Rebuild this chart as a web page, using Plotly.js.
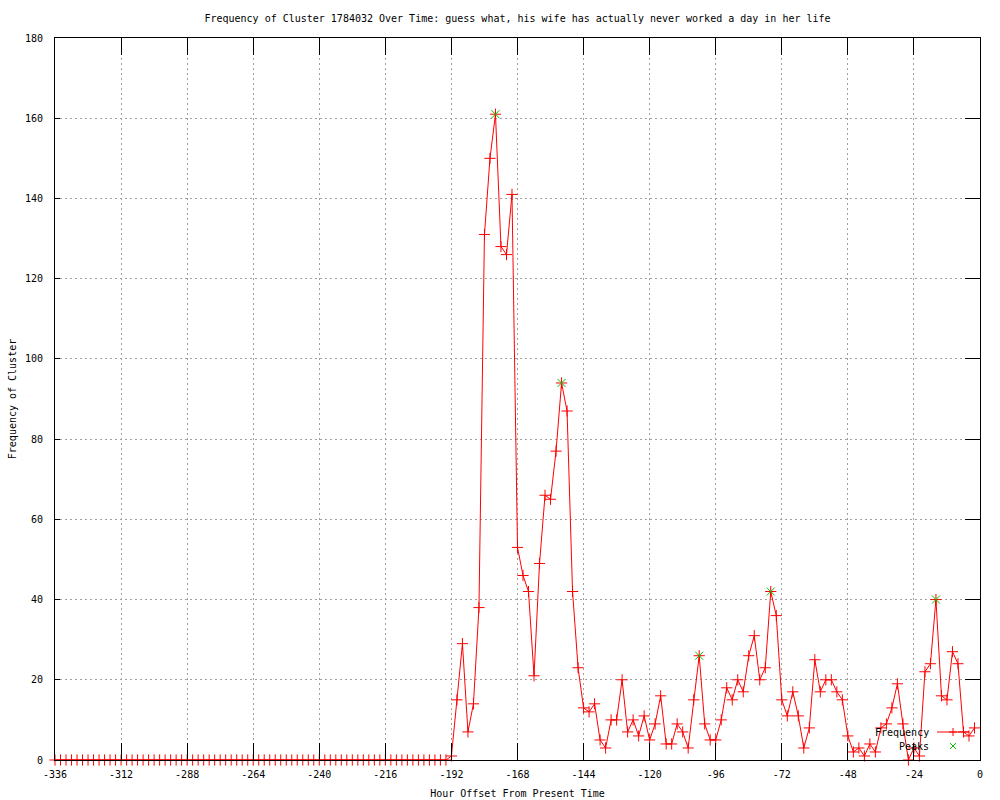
<!DOCTYPE html>
<html>
<head>
<meta charset="utf-8">
<script src="https://cdn.plot.ly/plotly-3.0.1.min.js"></script>
<style>
  html, body { margin: 0; padding: 0; background: #ffffff; }
  #chart { width: 1000px; height: 800px; }
</style>
</head>
<body>
<div id="chart"></div>
<script>
// Hour offsets (every 2 hours)
const hours = [
  -336,-334,-332,-330,-328,-326,-324,-322,-320,-318,-316,-314,
  -312,-310,-308,-306,-304,-302,-300,-298,-296,-294,-292,-290,
  -288,-286,-284,-282,-280,-278,-276,-274,-272,-270,-268,-266,
  -264,-262,-260,-258,-256,-254,-252,-250,-248,-246,-244,-242,
  -240,-238,-236,-234,-232,-230,-228,-226,-224,-222,-220,-218,
  -216,-214,-212,-210,-208,-206,-204,-202,-200,-198,-196,-194,
  -192,-190,-188,-186,-184,-182,-180,-178,-176,-174,-172,-170,
  -168,-166,-164,-162,-160,-158,-156,-154,-152,-150,-148,-146,
  -144,-142,-140,-138,-136,-134,-132,-130,-128,-126,-124,-122,
  -120,-118,-116,-114,-112,-110,-108,-106,-104,-102,-100,-98,
  -96,-94,-92,-90,-88,-86,-84,-82,-80,-78,-76,-74,
  -72,-70,-68,-66,-64,-62,-60,-58,-56,-54,-52,-50,
  -48,-46,-44,-42,-40,-38,-36,-34,-32,-30,-28,-26,
  -24,-22,-20,-18,-16,-14,-12,-10,-8,-6,-4,-2
];
// Frequency of cluster at each hour offset
const frequency = [
  0,0,0,0,0,0,0,0,0,0,0,0,
  0,0,0,0,0,0,0,0,0,0,0,0,
  0,0,0,0,0,0,0,0,0,0,0,0,
  0,0,0,0,0,0,0,0,0,0,0,0,
  0,0,0,0,0,0,0,0,0,0,0,0,
  0,0,0,0,0,0,0,0,0,0,0,0,
  1,15,29,7,14,38,131,150,161,128,126,141,
  53,46,42,21,49,66,65,77,94,87,42,23,
  13,12,14,5,3,10,10,20,7,10,6,11,
  5,9,16,4,4,9,7,3,15,26,9,5,
  5,10,18,15,20,17,26,31,20,23,42,36,
  15,11,17,11,3,8,25,17,20,20,17,15,
  6,2,3,1,4,2,8,9,13,19,9,0,
  3,1,22,24,40,16,15,27,24,7,6,8
];
// Detected peaks
const peakHours = [-176, -152, -102, -76, -16];
const peakFreq = [161, 94, 26, 42, 40];

// Tick labels
const xTickVals = [-336,-312,-288,-264,-240,-216,-192,-168,-144,-120,-96,-72,-48,-24,0];
const xTickText = ["-336","-312","-288","-264","-240","-216","-192","-168","-144","-120","-96","-72","-48","-24","0"];
const yTickVals = [0,20,40,60,80,100,120,140,160,180];
const yTickText = ["0","20","40","60","80","100","120","140","160","180"];

const titleText = "Frequency of Cluster 1784032 Over Time: guess what, his wife has actually never worked a day in her life";
const xTitle = "Hour Offset From Present Time";
const yTitle = "Frequency of Cluster";
const legendNames = ["Frequency", "Peaks"];

const FONT = "DejaVu Sans Mono, Liberation Mono, monospace";
const FS = 10;
const RED = "#ff0000";
const GREEN = "#00c000";

// plot area in pixels
const L = 55, R = 980, T = 38, B = 760;
const px = x => (x - L) / (R - L);
const py = y => (B - y) / (B - T);

const traces = [
  {
    x: hours, y: frequency, type: "scatter", mode: "lines+markers",
    name: legendNames[0], cliponaxis: false,
    line: {color: RED, width: 1},
    marker: {symbol: "cross-thin-open", size: 8, color: RED, line: {color: RED, width: 1}},
    showlegend: false, hoverinfo: "x+y"
  },
  {
    x: peakHours, y: peakFreq, type: "scatter", mode: "markers",
    name: legendNames[1], cliponaxis: false,
    marker: {symbol: "x-thin-open", size: 8, color: GREEN, line: {color: GREEN, width: 1}},
    showlegend: false, hoverinfo: "x+y"
  },
  { x: [], y: [], yaxis: "y2", type: "scatter", mode: "markers", showlegend: false, hoverinfo: "skip" }
];

// manual gnuplot-style key (text left of sample)
const keyY1 = 732, keyY2 = 746, keyX0 = 937, keyX1 = 969, keyMX = 953;
const shapes = [
  {type: "line", xref: "paper", yref: "paper", x0: px(keyX0), x1: px(keyX1), y0: py(keyY1), y1: py(keyY1), line: {color: RED, width: 1}},
  {type: "line", xref: "paper", yref: "paper", x0: px(keyMX - 4), x1: px(keyMX + 4), y0: py(keyY1), y1: py(keyY1), line: {color: RED, width: 1}},
  {type: "line", xref: "paper", yref: "paper", x0: px(keyMX), x1: px(keyMX), y0: py(keyY1 - 4), y1: py(keyY1 + 4), line: {color: RED, width: 1}},
  {type: "line", xref: "paper", yref: "paper", x0: px(keyMX - 3), x1: px(keyMX + 3), y0: py(keyY2 - 3), y1: py(keyY2 + 3), line: {color: GREEN, width: 1}},
  {type: "line", xref: "paper", yref: "paper", x0: px(keyMX - 3), x1: px(keyMX + 3), y0: py(keyY2 + 3), y1: py(keyY2 - 3), line: {color: GREEN, width: 1}}
];
const annotations = [
  {xref: "paper", yref: "paper", x: px(931), y: py(keyY1), xanchor: "right", yanchor: "middle", text: legendNames[0], showarrow: false, font: {family: FONT, size: FS, color: "#000"}},
  {xref: "paper", yref: "paper", x: px(931), y: py(keyY2), xanchor: "right", yanchor: "middle", text: legendNames[1], showarrow: false, font: {family: FONT, size: FS, color: "#000"}}
];

const layout = {
  width: 1000, height: 800,
  margin: {l: L, r: 1000 - R, t: T, b: 800 - B, pad: 0},
  paper_bgcolor: "#ffffff", plot_bgcolor: "#ffffff",
  font: {family: FONT, size: FS, color: "#000"},
  title: {text: titleText, xref: "paper", x: 0.5, xanchor: "center", yref: "container", y: 1 - 18/800, yanchor: "middle", font: {family: FONT, size: FS, color: "#000"}},
  showlegend: false,
  xaxis: {
    range: [-336, 0], tickmode: "array", tickvals: xTickVals, ticktext: xTickText,
    ticks: "inside", ticklen: 17, tickwidth: 1, tickcolor: "#000",
    showline: true, linecolor: "#000", linewidth: 1, mirror: "ticks",
    showgrid: true, gridcolor: "#a0a0a0", griddash: "2px,3px", gridwidth: 1,
    zeroline: false, fixedrange: true,
    tickfont: {family: FONT, size: FS, color: "#000"},
    ticklabelstandoff: 5,
    title: {text: xTitle, font: {family: FONT, size: FS, color: "#000"}, standoff: 10},
    automargin: false
  },
  yaxis: {
    range: [0, 180], tickmode: "array", tickvals: yTickVals, ticktext: yTickText,
    ticks: "inside", ticklen: 5, tickwidth: 1, tickcolor: "#000",
    showline: true, linecolor: "#000", linewidth: 1, mirror: true,
    showgrid: true, gridcolor: "#a0a0a0", griddash: "2px,3px", gridwidth: 1,
    zeroline: false, fixedrange: true,
    tickfont: {family: FONT, size: FS, color: "#000"},
    ticklabelstandoff: 9,
    title: {text: yTitle, font: {family: FONT, size: FS, color: "#000"}, standoff: 6},
    automargin: false
  },
  yaxis2: {
    overlaying: "y", side: "right", anchor: "x",
    range: [0, 180], tickmode: "array", tickvals: yTickVals,
    ticks: "inside", ticklen: 15, tickwidth: 1, tickcolor: "#000",
    showticklabels: false, showline: false, showgrid: false, zeroline: false, fixedrange: true
  },
  shapes: shapes,
  annotations: annotations
};

Plotly.newPlot("chart", traces, layout, {displayModeBar: false, staticPlot: true});
</script>
</body>
</html>
